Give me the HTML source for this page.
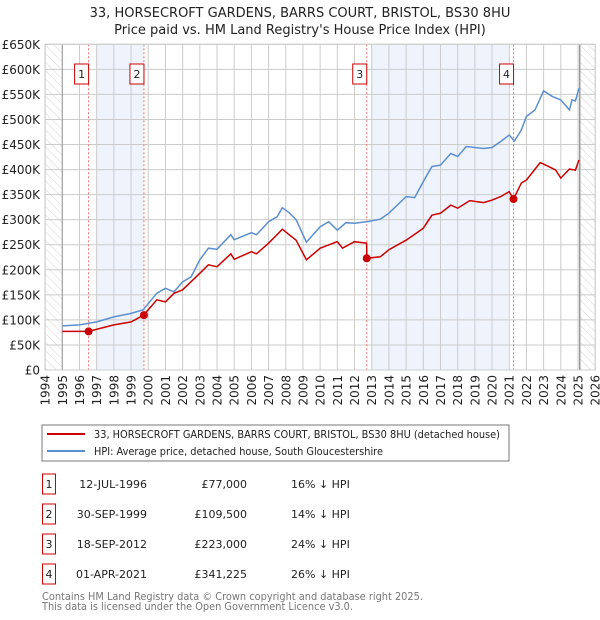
<!DOCTYPE html>
<html><head><meta charset="utf-8">
<style>
body{margin:0;background:#fff;font-family:"Liberation Sans","DejaVu Sans",sans-serif;}
#wrap{position:relative;width:600px;height:620px;overflow:hidden;}
svg text{font-family:"DejaVu Sans","Liberation Sans",sans-serif;}
</style></head>
<body>
<div id="wrap">
<svg id="chart" width="600" height="620">
<defs>
<pattern id="hatch" width="6" height="6" patternUnits="userSpaceOnUse" patternTransform="rotate(-45)">
<line x1="0" y1="0" x2="0" y2="6" stroke="#d4d4d4" stroke-width="1"/>
</pattern>
</defs>
<text x="300" y="17" text-anchor="middle" font-size="13" fill="#222">33, HORSECROFT GARDENS, BARRS COURT, BRISTOL, BS30 8HU</text>
<text x="300" y="34" text-anchor="middle" font-size="13" fill="#222">Price paid vs. HM Land Registry's House Price Index (HPI)</text>
<g id="grid"></g>
<g id="marks"></g>
<g id="axes"></g>
<rect x="42" y="425" width="467" height="36" fill="#fff" stroke="#777"/>
<line x1="47" y1="434" x2="85" y2="434" stroke="#cc0000" stroke-width="2"/>
<text x="94" y="438" font-size="11" textLength="406" lengthAdjust="spacingAndGlyphs" fill="#222">33, HORSECROFT GARDENS, BARRS COURT, BRISTOL, BS30 8HU (detached house)</text>
<line x1="47" y1="451" x2="85" y2="451" stroke="#5b8fd0" stroke-width="2"/>
<text x="94" y="455" font-size="11" textLength="289" lengthAdjust="spacingAndGlyphs" fill="#222">HPI: Average price, detached house, South Gloucestershire</text>
<g id="table"></g>
<text x="42" y="600" font-size="11" textLength="381" lengthAdjust="spacingAndGlyphs" fill="#777">Contains HM Land Registry data © Crown copyright and database right 2025.</text>
<text x="42" y="610" font-size="11" textLength="311" lengthAdjust="spacingAndGlyphs" fill="#777">This data is licensed under the Open Government Licence v3.0.</text>
</svg>
</div>
<script>
const hpiYears=[1995,1996,1997,1998,1999,1999.7,2000.5,2001,2001.5,2002,2002.5,2003,2003.5,2004,2004.8,2005,2006,2006.3,2007,2007.5,2007.8,2008.2,2008.6,2009.2,2010,2010.5,2011,2011.5,2012,2012.7,2013.5,2014,2015,2015.5,2016,2016.5,2017,2017.6,2018,2018.5,2019.5,2020,2020.5,2021,2021.3,2021.7,2022,2022.5,2023,2023.5,2024,2024.5,2024.65,2024.85,2025.05];
const hpiValues=[88,90,96,106,113,120,153,163,156,176,186,220,243,241,270,260,274,270,296,306,324,314,300,255,286,296,279,294,293,296,301,313,346,344,376,406,409,432,426,446,442,444,456,469,457,479,506,519,557,546,539,519,539,537,562];
const propYears=[1995,1996.53,1998,1999,1999.75,2000.5,2001,2001.5,2002,2003,2003.5,2004,2004.8,2005,2006,2006.3,2007,2007.8,2008.2,2008.6,2009.2,2010,2011,2011.3,2012,2012.7,2012.72,2013.5,2014,2015,2016,2016.5,2017,2017.6,2018,2018.7,2019.5,2020,2020.5,2021,2021.25,2021.7,2022,2022.8,2023.3,2023.7,2024,2024.5,2024.85,2025.05];
const propValues=[77,77,90,96,110,140,136,153,160,193,210,206,232,221,236,232,253,281,270,259,220,243,256,243,256,253,223,226,240,259,283,309,313,329,323,338,334,339,346,356,341,373,379,414,406,399,383,401,399,419];
const saleLabels=["1","2","3","4"];
const saleYears=[1996.53,1999.75,2012.71,2021.25];
const saleValues=[77,109.5,223,341.225];
const saleDates=["12-JUL-1996","30-SEP-1999","18-SEP-2012","01-APR-2021"];
const salePrices=["£77,000","£109,500","£223,000","£341,225"];
const saleDiffs=["16% ↓ HPI","14% ↓ HPI","24% ↓ HPI","26% ↓ HPI"];
const yTicks=[0,50,100,150,200,250,300,350,400,450,500,550,600,650];
const yTickLabels=["£0","£50K","£100K","£150K","£200K","£250K","£300K","£350K","£400K","£450K","£500K","£550K","£600K","£650K"];
const xTicks=[1994,1995,1996,1997,1998,1999,2000,2001,2002,2003,2004,2005,2006,2007,2008,2009,2010,2011,2012,2013,2014,2015,2016,2017,2018,2019,2020,2021,2022,2023,2024,2025,2026];

const NS="http://www.w3.org/2000/svg";
const X0=45.1,X1=595.2,Y0=370,Y1=44.3;
const xs=y=>X0+(y-1994)/(2026-1994)*(X1-X0);
const ys=v=>Y0-v/650*(Y0-Y1);
function mk(tag,attrs,parent){const e=document.createElementNS(NS,tag);for(const k in attrs)e.setAttribute(k,attrs[k]);parent.appendChild(e);return e;}
const grid=document.getElementById('grid'),marks=document.getElementById('marks'),axes=document.getElementById('axes'),table=document.getElementById('table');

let r=mk('rect',{x:xs(1997),y:Y1,width:xs(1999.75)-xs(1997),height:Y0-Y1,fill:'#eef3fc'},grid);


r=mk('rect',{x:xs(2013),y:Y1,width:xs(2020.95)-xs(2013),height:Y0-Y1,fill:'#eef3fc'},grid);


r=mk('rect',{x:X0,y:Y1,width:xs(1995)-X0,height:Y0-Y1,fill:'url(#hatch)'},grid);


r=mk('rect',{x:xs(2025.1),y:Y1,width:X1-xs(2025.1),height:Y0-Y1,fill:'url(#hatch)'},grid);



yTicks.forEach((v,i)=>{
  mk('line',{x1:X0,x2:X1,y1:ys(v),y2:ys(v),stroke:'#ccc','stroke-width':1},grid);
  const t=mk('text',{x:40,y:ys(v)+4.5,'text-anchor':'end','font-size':12,fill:'#222'},axes);
  t.textContent=yTickLabels[i];
  
  
});
xTicks.forEach(yr=>{
  mk('line',{x1:xs(yr),x2:xs(yr),y1:Y1,y2:Y0,stroke:'#ccc','stroke-width':1},grid);
  const t=mk('text',{x:0,y:0,'text-anchor':'end','font-size':12,fill:'#222',transform:`translate(${xs(yr)+4.5},375) rotate(-90)`},axes);
  t.textContent=yr;
  
  
});
mk('line',{x1:xs(1995),x2:xs(1995),y1:Y1,y2:Y0,stroke:'#999','stroke-width':1},grid);
mk('line',{x1:xs(2025.1),x2:xs(2025.1),y1:Y1,y2:Y0,stroke:'#999','stroke-width':1.5},grid);

saleYears.forEach((yr,i)=>{
  const l=mk('line',{x1:xs(yr),x2:xs(yr),y1:Y1,y2:Y0,stroke:'#f07070','stroke-width':1,'stroke-dasharray':'2,2'},marks);
  
  
});

const pts=(xa,va)=>xa.map((y,i)=>xs(y).toFixed(1)+','+ys(va[i]).toFixed(1)).join(' ');
let p=mk('polyline',{points:pts(hpiYears,hpiValues),fill:'none',stroke:'#5b8fd0','stroke-width':1.5},marks);


p=mk('polyline',{points:pts(propYears,propValues),fill:'none',stroke:'#cc0000','stroke-width':1.5},marks);



saleYears.forEach((yr,i)=>{
  const c=mk('circle',{cx:xs(yr),cy:ys(saleValues[i]),r:4,fill:'#cc0000'},marks);
  
  
  const g=mk('g',{},marks);
  
  
  mk('rect',{x:xs(yr)-14,y:64,width:14,height:20,fill:'#fff',stroke:'#cc0000','stroke-width':1},g);
  const t=mk('text',{x:xs(yr)-7,y:78,'text-anchor':'middle','font-size':11,fill:'#222'},g);
  t.textContent=saleLabels[i];
});
mk('rect',{x:X0,y:Y1,width:X1-X0,height:Y0-Y1,fill:'none',stroke:'#ccc'},axes);

const rowY=[484,514,544,574];
saleLabels.forEach((s,i)=>{
  const g=mk('g',{},table);
  
  
  mk('rect',{x:42.5,y:rowY[i]-10,width:13,height:20,fill:'#fff',stroke:'#cc0000','stroke-width':1},g);
  let t=mk('text',{x:49,y:rowY[i]+4,'text-anchor':'middle','font-size':11,fill:'#222'},g);t.textContent=s;
  t=mk('text',{x:147,y:rowY[i]+4,'text-anchor':'end','font-size':11,fill:'#222'},g);t.textContent=saleDates[i];
  t=mk('text',{x:247,y:rowY[i]+4,'text-anchor':'end','font-size':11,fill:'#222'},g);t.textContent=salePrices[i];
  t=mk('text',{x:291,y:rowY[i]+4,'font-size':11,fill:'#222'},g);t.textContent=saleDiffs[i];
});
</script>
</body></html>
